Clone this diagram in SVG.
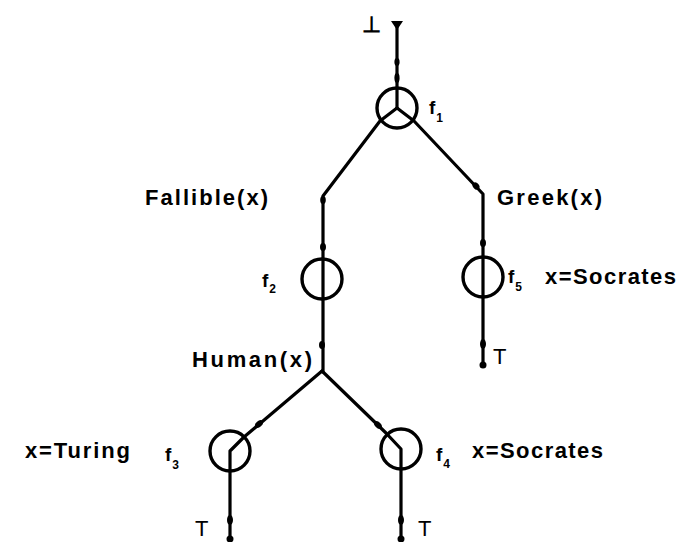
<svg xmlns="http://www.w3.org/2000/svg" width="678" height="542" viewBox="0 0 678 542">
<style>
.ln{stroke:#000;stroke-width:3.2;fill:none;stroke-linecap:round;stroke-linejoin:round}
.c{stroke:#000;stroke-width:3.4;fill:none}
.t{font-family:"Liberation Sans",Arial,sans-serif;font-weight:bold;font-size:22px;fill:#000}
.tt{font-family:"Liberation Sans",Arial,sans-serif;font-size:22px;fill:#000}
.f{font-family:"Liberation Sans",Arial,sans-serif;font-weight:bold;font-size:19px;fill:#000}
.s{font-size:12px}
.d{fill:#000}
</style>
<rect width="678" height="542" fill="#fff"/>
<g id="connectors">
<path class="ln" d="M397,24 L397,108"/>
<path class="ln" d="M397,108 L380,121 L323,196 L323,372"/>
<path class="ln" d="M397,108 L414,121 L483,194 L483,366"/>
<path class="ln" d="M322,371 L244,437 L230,451 L230,542"/>
<path class="ln" d="M322,371 L386,433 L401,449 L401,542"/>
<polygon class="d" points="391,21 403,21 397,30"/>
<ellipse class="d" cx="397" cy="62" rx="2.6" ry="4"/>
<ellipse class="d" cx="397" cy="78" rx="2.6" ry="5"/>
<ellipse class="d" cx="323" cy="200" rx="2.8" ry="4"/>
<ellipse class="d" cx="323" cy="247" rx="3" ry="4"/>
<ellipse class="d" cx="322" cy="345" rx="3" ry="4"/>
<ellipse class="d" cx="476" cy="186" rx="3" ry="4" transform="rotate(-40 476 186)"/>
<ellipse class="d" cx="483" cy="243" rx="3" ry="4"/>
<ellipse class="d" cx="483" cy="344" rx="3" ry="5"/>
<circle class="d" cx="483" cy="365" r="3.5"/>
<ellipse class="d" cx="259" cy="424" rx="3" ry="4.5" transform="rotate(50 259 424)"/>
<ellipse class="d" cx="378" cy="425" rx="3" ry="4.5" transform="rotate(-45 378 425)"/>
<ellipse class="d" cx="230" cy="520" rx="3" ry="5"/>
<ellipse class="d" cx="401" cy="520" rx="3" ry="5"/>
<circle class="d" cx="230" cy="539" r="3.5"/>
<circle class="d" cx="401" cy="539" r="3.5"/>
</g>
<g id="bottom">
<text class="t" x="362" y="32" font-size="24">⊥</text>
</g>
<g id="f1">
<circle class="c" cx="397" cy="108" r="20"/>
<text class="f" x="429" y="114">f<tspan class="s" dx="1" dy="8">1</tspan></text>
</g>
<g id="fallible">
<text class="t" x="145" y="205" textLength="123" lengthAdjust="spacing">Fallible(x)</text>
</g>
<g id="greek">
<text class="t" x="497" y="205" textLength="105" lengthAdjust="spacing">Greek(x)</text>
</g>
<g id="f2">
<circle class="c" cx="322" cy="279" r="20"/>
<text class="f" x="262" y="287">f<tspan class="s" dx="1" dy="6">2</tspan></text>
</g>
<g id="f5">
<circle class="c" cx="483" cy="277" r="20"/>
<text class="f" x="508" y="283">f<tspan class="s" dx="1" dy="8">5</tspan></text>
<text class="t" x="545" y="284" textLength="131" lengthAdjust="spacing">x=Socrates</text>
<text class="tt" x="493" y="364">T</text>
</g>
<g id="human">
<text class="t" x="192" y="367" textLength="120" lengthAdjust="spacing">Human(x)</text>
</g>
<g id="f3">
<circle class="c" cx="230" cy="451" r="20"/>
<text class="f" x="165" y="461">f<tspan class="s" dx="1" dy="8">3</tspan></text>
<text class="t" x="25" y="458" textLength="105" lengthAdjust="spacing">x=Turing</text>
<text class="tt" x="195" y="536">T</text>
</g>
<g id="f4">
<circle class="c" cx="401" cy="449" r="20"/>
<text class="f" x="436" y="461">f<tspan class="s" dx="1" dy="7">4</tspan></text>
<text class="t" x="472" y="458" textLength="131" lengthAdjust="spacing">x=Socrates</text>
<text class="tt" x="418" y="536">T</text>
</g>
</svg>
